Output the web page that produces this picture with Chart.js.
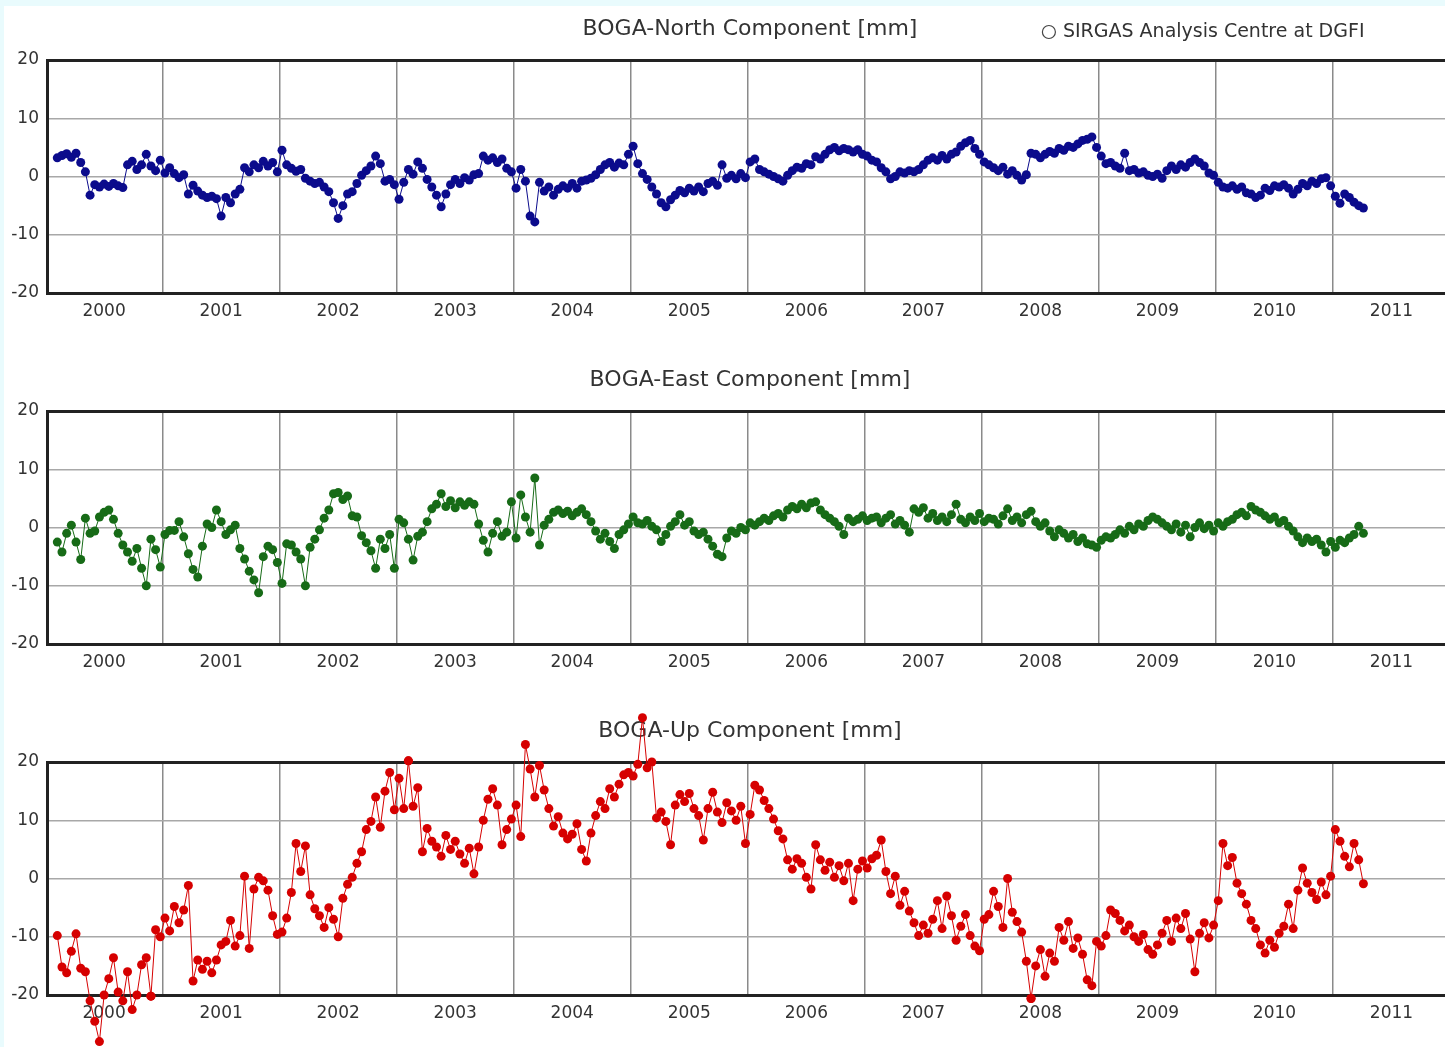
<!DOCTYPE html>
<html>
<head>
<meta charset="utf-8">
<title>BOGA station coordinate time series</title>
<script src="https://cdn.jsdelivr.net/npm/chart.js@4.4.1/dist/chart.umd.min.js"></script>
<style>
  html, body { margin: 0; padding: 0; background: #e9fbfd; }
  body { width: 1445px; height: 1047px; position: relative; overflow: hidden; }
  #sheet { position: absolute; left: 4px; top: 6px; right: 0; bottom: 0; background: #fff; }
  canvas { position: absolute; left: 5px; }
</style>
</head>
<body>
<div id="sheet"></div>
<!-- plots run on past the right edge of the page -->
<canvas id="north" width="1490" height="351" style="top:0px"></canvas>
<canvas id="east" width="1490" height="351" style="top:351px"></canvas>
<canvas id="up" width="1490" height="345" style="top:702px"></canvas>

<script>
// Weekly SIRGAS solutions for BOGA, sampled every 0.04 yr starting 2000.10
var firstEpoch = 2000.10;
var stepYears = 0.04;

var yearLabels = ['2000', '2001', '2002', '2003', '2004', '2005',
                  '2006', '2007', '2008', '2009', '2010', '2011'];
var yTicks = [-20, -10, 0, 10, 20];

// one row per year (25 samples), last row is the 2011 tail
var northMm = [
   3.2, 3.6, 3.9, 3.3, 4.0, 2.4, 0.8,-3.2,-1.4,-1.8,-1.3,-1.7,-1.2,-1.6,-1.9, 2.0, 2.6, 1.2, 2.0, 3.8, 1.8, 1.0, 2.8, 0.6, 1.5,
   0.5,-0.2, 0.3,-3.0,-1.5,-2.5,-3.2,-3.6,-3.4,-3.8,-6.8,-3.6,-4.5,-3.0,-2.2, 1.5, 0.8, 2.0, 1.5, 2.6, 1.8, 2.4, 0.8, 4.5, 2.0,
   1.4, 0.9, 1.2,-0.3,-0.8,-1.2,-1.0,-1.8,-2.6,-4.5,-7.2,-5.0,-3.0,-2.6,-1.2, 0.2, 1.0, 1.8, 3.5, 2.2,-0.8,-0.5,-1.4,-3.9,-1.0,
   1.2, 0.4, 2.5, 1.4,-0.5,-1.8,-3.2,-5.2,-3.0,-1.4,-0.5,-1.2,-0.2,-0.6, 0.3, 0.5, 3.5, 2.8, 3.2, 2.4, 3.0, 1.4, 0.8,-2.0, 1.2,
  -0.8,-6.8,-7.8,-1.0,-2.5,-1.8,-3.2,-2.2,-1.6,-2.0,-1.2,-2.0,-0.8,-0.6,-0.3, 0.3, 1.2, 2.0, 2.4, 1.6, 2.3, 2.0, 3.8, 5.2, 2.2,
   0.5,-0.5,-1.8,-3.0,-4.5,-5.2,-4.0,-3.2,-2.4,-2.8,-2.0,-2.5,-1.8,-2.6,-1.2,-0.8,-1.5, 2.0,-0.3, 0.2,-0.4, 0.5,-0.2, 2.5, 3.0,
   1.2, 0.8, 0.4, 0.0,-0.4,-0.8, 0.2, 1.0, 1.6, 1.4, 2.2, 2.0, 3.4, 3.0, 3.8, 4.6, 5.0, 4.4, 4.8, 4.6, 4.2, 4.6, 3.8, 3.5, 2.8,
   2.5, 1.5, 0.8,-0.4, 0.0, 0.8, 0.6, 1.0, 0.8, 1.2, 2.0, 2.8, 3.2, 2.8, 3.6, 3.0, 3.8, 4.2, 5.2, 5.8, 6.2, 4.8, 3.8, 2.5, 2.0,
   1.5, 1.0, 1.6, 0.4, 1.0, 0.2,-0.6, 0.3, 4.0, 3.8, 3.2, 3.8, 4.3, 4.0, 4.8, 4.5, 5.2, 5.0, 5.6, 6.2, 6.4, 6.8, 5.0, 3.5, 2.2,
   2.4, 1.8, 1.4, 4.0, 1.0, 1.2, 0.6, 0.8, 0.2, 0.0, 0.4,-0.3, 1.0, 1.8, 1.2, 2.0, 1.6, 2.4, 3.0, 2.4, 1.8, 0.6, 0.2,-1.0,-1.8,
  -2.0,-1.6,-2.2,-1.8,-2.8,-3.0,-3.6,-3.2,-2.0,-2.4,-1.6,-1.8,-1.4,-2.0,-3.0,-2.2,-1.2,-1.6,-0.8,-1.2,-0.4,-0.2,-1.6,-3.4,-4.6,
  -3.0,-3.6,-4.4,-5.0,-5.4
];

var eastMm = [
  -2.5,-4.2,-1.0, 0.4,-2.5,-5.5, 1.6,-1.0,-0.6, 1.8, 2.6, 3.0, 1.4,-1.0,-3.0,-4.2,-5.8,-3.6,-7.0,-10.0,-2.0,-3.8,-6.8,-1.2,-0.5,
  -0.5, 1.0,-1.6,-4.5,-7.2,-8.5,-3.2, 0.6, 0.0, 3.0, 1.0,-1.2,-0.4, 0.4,-3.6,-5.4,-7.5,-9.0,-11.2,-5.0,-3.2,-3.8,-6.0,-9.6,-2.8,
  -3.0,-4.2,-5.4,-10.0,-3.4,-2.0,-0.4, 1.6, 3.0, 5.8, 6.0, 4.8, 5.4, 2.0, 1.8,-1.4,-2.6,-4.0,-7.0,-2.0,-3.6,-1.2,-7.0, 1.4, 0.8,
  -2.0,-5.6,-1.5,-0.8, 1.0, 3.2, 4.0, 5.8, 3.6, 4.6, 3.4, 4.4, 3.8, 4.4, 4.0, 0.6,-2.2,-4.2,-1.0, 1.0,-1.5,-0.8, 4.4,-1.8, 5.6,
   1.8,-0.8, 8.5,-3.0, 0.4, 1.4, 2.6, 3.0, 2.4, 2.8, 2.0, 2.6, 3.2, 2.2, 1.0,-0.6,-2.0,-1.0,-2.4,-3.6,-1.2,-0.4, 0.6, 1.8, 0.8,
   0.6, 1.2, 0.2,-0.4,-2.4,-1.2, 0.2, 1.0, 2.2, 0.4, 1.0,-0.6,-1.2,-0.8,-2.0,-3.2,-4.6,-5.0,-1.8,-0.6,-1.0, 0.0,-0.4, 0.8, 0.4,
   1.0, 1.6, 1.2, 2.0, 2.4, 1.8, 3.0, 3.6, 3.2, 4.0, 3.4, 4.2, 4.4, 3.0, 2.2, 1.6, 1.0, 0.2,-1.2, 1.6, 1.0, 1.4, 2.0, 1.2, 1.6,
   1.8, 0.8, 1.6, 2.2, 0.6, 1.2, 0.4,-0.8, 3.2, 2.6, 3.4, 1.6, 2.4, 1.2, 1.8, 1.0, 2.2, 4.0, 1.4, 0.8, 1.8, 1.2, 2.4, 1.0, 1.6,
   1.4, 0.6, 2.0, 3.2, 1.2, 1.8, 0.8, 2.2, 2.8, 1.0, 0.2, 0.8,-0.6,-1.6,-0.4,-1.0,-1.8,-1.2,-2.4,-1.8,-2.8,-3.0,-3.4,-2.2,-1.6,
  -1.8,-1.2,-0.4,-1.0, 0.2,-0.4, 0.6, 0.2, 1.2, 1.8, 1.4, 0.8, 0.2,-0.4, 0.6,-0.8, 0.4,-1.6, 0.0, 0.8,-0.2, 0.4,-0.6, 0.8, 0.2,
   1.0, 1.4, 2.2, 2.6, 2.0, 3.6, 3.0, 2.6, 2.0, 1.4, 1.8, 0.8, 1.2, 0.2,-0.6,-1.6,-2.6,-1.8,-2.4,-2.0,-3.0,-4.2,-2.4,-3.4,-2.2,
  -2.6,-1.8,-1.2, 0.2,-1.0
];

var upMm = [
  -9.8,-15.2,-16.2,-12.5,-9.5,-15.4,-16.0,-21.0,-24.5,-28.0,-20.0,-17.2,-13.6,-19.5,-21.0,-16.0,-22.5,-20.0,-14.8,-13.6,-20.2,-8.8,-10.0,-6.8,-9.0,
  -4.8,-7.6,-5.4,-1.2,-17.6,-14.0,-15.6,-14.2,-16.2,-14.0,-11.4,-10.8,-7.2,-11.6,-9.8, 0.4,-12.0,-1.8, 0.2,-0.4,-2.0,-6.4,-9.6,-9.2,-6.8,
  -2.4, 6.0, 1.2, 5.6,-2.8,-5.2,-6.4,-8.4,-5.0,-7.0,-10.0,-3.4,-1.0, 0.2, 2.6, 4.6, 8.4, 9.8,14.0, 8.8,15.0,18.2,11.8,17.2,12.0,
  20.2,12.4,15.6, 4.6, 8.6, 6.4, 5.4, 3.8, 7.4, 5.0, 6.4, 4.2, 2.6, 5.2, 0.8, 5.4,10.0,13.6,15.4,12.6, 5.8, 8.4,10.2,12.6, 7.2,
  23.0,18.8,14.0,19.4,15.2,12.0, 9.0,10.6, 7.8, 6.8, 7.6, 9.4, 5.0, 3.0, 7.8,10.8,13.2,12.0,15.4,14.0,16.2,17.8,18.2,17.6,19.6,
  27.6,19.0,20.0,10.4,11.4, 9.8, 5.8,12.6,14.4,13.2,14.6,12.0,10.8, 6.6,12.0,14.8,11.4, 9.6,13.0,11.6,10.0,12.4, 6.0,11.0,16.0,
  15.2,13.4,12.0,10.2, 8.2, 6.8, 3.2, 1.6, 3.4, 2.6, 0.2,-1.8, 5.8, 3.2, 1.4, 2.8, 0.2, 2.2,-0.4, 2.6,-3.8, 1.6, 3.0, 1.8, 3.4,
   4.0, 6.6, 1.2,-2.6, 0.4,-4.6,-2.2,-5.6,-7.6,-9.8,-8.0,-9.4,-7.0,-3.8,-8.6,-3.0,-6.4,-10.6,-8.2,-6.2,-9.8,-11.6,-12.4,-7.0,-6.2,
  -2.2,-4.8,-8.4, 0.0,-5.8,-7.4,-9.2,-14.2,-20.6,-15.0,-12.2,-16.8,-12.8,-14.2,-8.4,-10.6,-7.4,-12.0,-10.2,-13.0,-17.4,-18.4,-10.8,-11.6,-9.8,
  -5.4,-6.0,-7.2,-9.0,-8.0,-10.0,-10.8,-9.6,-12.2,-13.0,-11.4,-9.4,-7.2,-10.8,-6.8,-8.6,-6.0,-10.4,-16.0,-9.4,-7.6,-10.2,-8.0,-3.8, 6.0,
   2.2, 3.6,-0.8,-2.6,-4.4,-7.2,-8.6,-11.4,-12.8,-10.6,-11.8,-9.4,-8.2,-4.4,-8.6,-2.0, 1.8,-0.8,-2.4,-3.6,-0.6,-2.8, 0.4, 8.4, 6.4,
   3.8, 2.0, 6.0, 3.2,-0.9
];

var fontFamily = '"DejaVu Sans", sans-serif';
var textColor = '#333333';
var firstYear = parseInt(yearLabels[0], 10);

// label ticks sit mid-year, grid ticks on year boundaries
var xTickValues = [];
yearLabels.forEach(function (label, i) {
    xTickValues.push(firstYear + i + 0.5);
    if (i < yearLabels.length - 1) xTickValues.push(firstYear + i + 1);
});

function toPoints(values) {
    return values.map(function (v, i) {
        return { x: firstEpoch + i * stepYears, y: v };
    });
}

// hollow-circle caption in the top-right corner of the first panel
var captionPlugin = {
    id: 'caption',
    afterDraw: function (chart, args, opts) {
        if (!opts.text) return;
        var ctx = chart.ctx;
        var right = chart.chartArea.right - opts.rightGap;
        ctx.save();
        ctx.font = '19px ' + fontFamily;
        ctx.fillStyle = textColor;
        ctx.textAlign = 'right';
        ctx.textBaseline = 'middle';
        ctx.fillText(opts.text, right, opts.y);
        var w = ctx.measureText(opts.text).width;
        ctx.beginPath();
        ctx.arc(right - w - 14, opts.y, 6.5, 0, Math.PI * 2);
        ctx.strokeStyle = '#444';
        ctx.lineWidth = 1.2;
        ctx.stroke();
        ctx.restore();
    }
};

// Chart.js skips points lying outside the chart area; outliers are drawn here
var outlierPlugin = {
    id: 'outliers',
    afterDatasetsDraw: function (chart) {
        var area = chart.chartArea;
        var open = { left: -1e4, right: 1e4, top: -1e4, bottom: 1e4 };
        chart.getSortedVisibleDatasetMetas().forEach(function (meta) {
            meta.data.forEach(function (pt) {
                if (pt.y < area.top || pt.y > area.bottom) pt.draw(chart.ctx, open);
            });
        });
    }
};

function makePanel(canvasId, title, values, color, axisHeight, caption) {
    var canvas = document.getElementById(canvasId);
    return new Chart(canvas, {
        type: 'line',
        data: {
            datasets: [{
                label: title,
                data: toPoints(values),
                borderColor: color,
                backgroundColor: color,
                borderWidth: 1,
                pointRadius: 4.5,
                pointBorderWidth: 0,
                pointBackgroundColor: color,
                tension: 0,
                clip: false
            }]
        },
        options: {
            responsive: false,
            animation: false,
            layout: { padding: 0 },
            plugins: {
                legend: { display: false },
                tooltip: { enabled: false },
                title: {
                    display: true,
                    text: title,
                    color: textColor,
                    font: { family: fontFamily, size: 22, weight: 'normal' },
                    padding: { top: 16, bottom: 17.6 }
                },
                caption: caption || {}
            },
            scales: {
                x: {
                    type: 'linear',
                    min: 2000.012,
                    max: 2012.346,
                    afterBuildTicks: function (scale) {
                        scale.ticks = xTickValues.map(function (v) { return { value: v }; });
                    },
                    afterFit: function (scale) { scale.height = axisHeight; },
                    ticks: {
                        autoSkip: false,
                        maxRotation: 0,
                        padding: 8,
                        color: textColor,
                        font: { family: fontFamily, size: 17 },
                        callback: function (v) {
                            return v % 1 ? yearLabels[Math.floor(v) - firstYear] : '';
                        }
                    },
                    grid: {
                        drawTicks: false,
                        lineWidth: 1.5,
                        color: function (c) {
                            return c.tick && c.tick.value % 1 === 0 ? '#8a8a8a' : 'rgba(0,0,0,0)';
                        }
                    },
                    border: { display: true, color: '#222', width: 3 }
                },
                y: {
                    min: yTicks[0],
                    max: yTicks[yTicks.length - 1],
                    afterBuildTicks: function (scale) {
                        scale.ticks = yTicks.map(function (v) { return { value: v }; });
                    },
                    afterFit: function (scale) { scale.width = 42; },
                    ticks: {
                        padding: 8,
                        color: textColor,
                        font: { family: fontFamily, size: 17 }
                    },
                    grid: {
                        drawTicks: false,
                        color: function (c) {
                            return c.tick && c.tick.value === yTicks[yTicks.length - 1] ? '#222' : '#a8a8a8';
                        },
                        lineWidth: function (c) {
                            return c.tick && c.tick.value === yTicks[yTicks.length - 1] ? 3 : 1.5;
                        }
                    },
                    border: { display: true, color: '#222', width: 3 }
                }
            }
        },
        plugins: [captionPlugin, outlierPlugin]
    });
}

makePanel('north', 'BOGA-North Component [mm]', northMm, '#0b0b8c', 58,
          { text: 'SIRGAS Analysis Centre at DGFI', y: 32, rightGap: 126 });
makePanel('east', 'BOGA-East Component [mm]', eastMm, '#176b17', 58);
makePanel('up', 'BOGA-Up Component [mm]', upMm, '#d60000', 52);
</script>
</body>
</html>
